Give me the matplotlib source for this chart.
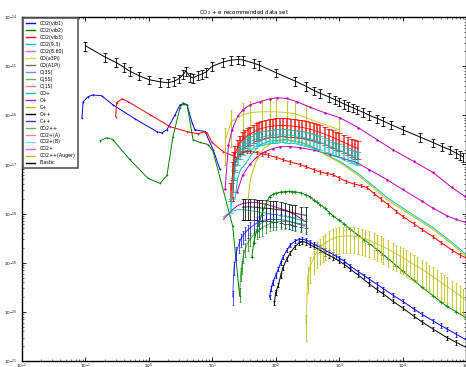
import numpy as np
import matplotlib
matplotlib.use("Agg")
import matplotlib.pyplot as plt
from matplotlib.lines import Line2D

B, G, R, C, M, Y, K = (0, 0, 1), (0, 0.5, 0), (1, 0, 0), (0, 0.75, 0.75), (0.75, 0, 0.75), (0.75, 0.75, 0), (0, 0, 0)

# ---------------- data (energy eV, cross section cm^2) ----------------
vib1_x = [0.088, 0.092, 0.11, 0.13, 0.18, 0.27, 0.6, 1.34, 1.6, 1.93, 2.6, 3.1, 4.0, 4.8, 5.3, 7.7, 10.3, 13.2]
vib1_y = [8.9e-17, 1.89e-16, 2.38e-16, 2.6e-16, 2.5e-16, 1.64e-16, 8.5e-17, 4.65e-17, 4.4e-17, 5.1e-17, 1.03e-16, 1.64e-16, 1.64e-16, 7.1e-17, 5.1e-17, 4.65e-17, 2.0e-17, 8e-18]

vib2_x = [0.17, 0.22, 0.27, 0.5, 0.97, 1.5, 1.93, 2.4, 3.1, 3.45, 4.0, 4.97, 6.4, 8.6, 10.3, 21, 27]
vib2_y = [3.05e-17, 3.5e-17, 3.2e-17, 1.26e-17, 5.2e-18, 4.1e-18, 6.0e-18, 3.7e-17, 1.43e-16, 1.8e-16, 1.64e-16, 3.2e-17, 2.8e-17, 2.54e-17, 1.83e-17, 5.5e-19, 2.1e-20]

vib3_x = [0.30, 0.31, 0.38, 0.47, 1.04, 2.15, 4.0, 6.0, 7.7, 8.3, 9.9, 14.8, 24.5]
vib3_y = [9.4e-17, 1.8e-16, 2.17e-16, 1.89e-16, 1.03e-16, 5.9e-17, 4.65e-17, 4.2e-17, 4.65e-17, 4.4e-17, 2.8e-17, 1.83e-17, 1.38e-17]

e930_x = [15, 20, 25, 30, 40, 50, 70, 100, 150, 200, 300]
e930_y = [8.5e-19, 1.1e-18, 1.2e-18, 1.2e-18, 1.15e-18, 1.1e-18, 1.02e-18, 9.5e-19, 8.6e-19, 7.9e-19, 6.9e-19]

e860_x = [15, 20, 25, 30, 40, 50, 70, 100, 150, 200, 300]
e860_y = [7.6e-19, 1.15e-18, 1.45e-18, 1.6e-18, 1.69e-18, 1.68e-18, 1.55e-18, 1.35e-18, 1.15e-18, 9.5e-19, 6.8e-19]

coa_x = [16, 20, 30, 40, 60, 80, 100, 150, 200, 300, 1000]
coa_y = [3.2e-17, 7.4e-17, 1.03e-16, 1.13e-16, 1.18e-16, 1.18e-16, 1.18e-16, 1.13e-16, 1.08e-16, 8.9e-17, 5.1e-17]

coA_x = [30, 33, 36, 40, 45, 50, 55, 60, 70, 80, 90, 100, 120, 140, 160, 180, 200, 250, 300]
coA_y = [1.34e-18, 1.36e-18, 1.37e-18, 1.37e-18, 1.35e-18, 1.33e-18, 1.31e-18, 1.3e-18, 1.28e-18, 1.27e-18,
         1.25e-18, 1.22e-18, 1.18e-18, 1.14e-18, 1.1e-18, 1.05e-18, 1.02e-18, 9.6e-19, 9.2e-19]

o3s_x = [21, 22, 24, 26, 28, 30, 33, 36, 40, 45, 50, 55, 60, 70, 80, 90, 100, 120, 140, 160, 180, 200, 250, 300]
o3s_y = [2.0e-20, 8e-20, 1.6e-19, 2.3e-19, 3.0e-19, 3.45e-19, 4.1e-19, 4.6e-19, 5.2e-19, 5.8e-19, 6.4e-19, 6.8e-19,
         7.1e-19, 7.5e-19, 7.6e-19, 7.6e-19, 7.6e-19, 7.5e-19, 7.3e-19, 7.0e-19, 6.7e-19, 6.4e-19, 5.9e-19, 5.5e-19]

o5s_x = [27, 28, 29, 31, 33, 36, 40, 45, 50, 55, 60, 70, 80, 90, 100, 120, 140, 160, 180, 200, 250, 300]
o5s_y = [2.3e-20, 6e-20, 8.5e-20, 1.4e-19, 1.9e-19, 2.5e-19, 3.1e-19, 3.7e-19, 4.3e-19, 4.7e-19, 5.1e-19, 5.7e-19,
         6.2e-19, 6.5e-19, 6.7e-19, 6.9e-19, 6.9e-19, 6.8e-19, 6.7e-19, 6.5e-19, 6.2e-19, 6.0e-19]

o1s_x = [21, 22, 24, 27, 30, 35, 40, 50, 60, 75, 100, 130, 170, 240, 300, 400, 500, 650, 800, 1000, 1300, 1700, 2200, 2750, 3500, 4500, 6000, 8000, 1e4, 1.5e4, 2e4, 3e4, 4e4, 6e4, 8e4, 1e5]
o1s_y = [2e-18, 8e-18, 1.3e-17, 1.6e-17, 1.75e-17, 1.83e-17, 1.83e-17, 1.75e-17, 1.65e-17, 1.55e-17, 1.4e-17, 1.25e-17,
         1.12e-17, 1.0e-17, 9.0e-18, 7.8e-18, 7.0e-18, 6.5e-18, 6.2e-18, 5.3e-18, 4.5e-18, 4.0e-18, 3.7e-18, 3.4e-18,
         2.6e-18, 2.0e-18, 1.5e-18, 1.1e-18, 8.8e-19, 6.2e-19, 4.8e-19, 3.4e-19, 2.6e-19, 1.8e-19, 1.45e-19, 1.25e-19]

cop_x = [22.8, 25, 28, 33, 40, 56, 80, 140, 250, 390, 600, 1030, 2000, 3500, 5700, 1e4, 3e4, 6e4, 1e5]
cop_y = [1.94e-18, 5e-18, 8e-18, 1.0e-17, 1.5e-17, 2.5e-17, 3.0e-17, 3.2e-17, 2.8e-17, 2.2e-17, 1.6e-17, 1.15e-17,
         6.5e-18, 3.6e-18, 2.13e-18, 1.3e-18, 5.2e-19, 2.6e-19, 1.48e-19]

op_x = [24.5, 30, 39, 50, 68, 90, 117, 170, 242, 400, 718, 1200, 1910, 3000, 5680, 1e4, 2e4, 3e4, 5e4, 7e4, 1e5]
op_y = [2.7e-18, 6e-18, 1.0e-17, 1.4e-17, 1.83e-17, 2.1e-17, 2.3e-17, 2.3e-17, 2.2e-17, 1.95e-17, 1.59e-17, 1.3e-17,
        1.09e-17, 7.8e-18, 4.9e-18, 3.1e-18, 1.8e-18, 1.3e-18, 9.0e-19, 7.6e-19, 6.6e-19]

cp_x = [36.6, 40, 47, 55, 68, 90, 150, 250, 387, 600, 1030, 2000, 3500, 5680, 1e4, 3e4, 6e4, 1e5]
cp_y = [1.94e-18, 5e-18, 1.0e-17, 1.6e-17, 2.2e-17, 2.8e-17, 3.2e-17, 2.8e-17, 2.3e-17, 1.6e-17, 1.09e-17, 6e-18,
        3.3e-18, 1.94e-18, 1.2e-18, 4.8e-19, 2.4e-19, 1.35e-19]

opp_x = [95, 100, 110, 120, 130, 150, 170, 200, 230, 260, 300, 350, 400, 500, 600, 700, 800, 1000, 1200, 1500,
         2000, 3000, 4000, 5000, 7000, 1e4, 1.5e4, 2e4, 3e4, 5e4, 7e4, 1e5]
opp_y = [1.5e-20, 2.5e-20, 3.5e-20, 5.5e-20, 8e-20, 1.2e-19, 1.6e-19, 2.1e-19, 2.5e-19, 2.72e-19, 2.6e-19, 2.3e-19,
         2.12e-19, 1.8e-19, 1.55e-19, 1.4e-19, 1.28e-19, 1.08e-19, 9.3e-20, 7.4e-20, 5.6e-20, 3.7e-20, 2.8e-20,
         2.3e-20, 1.65e-20, 1.2e-20, 8.2e-21, 6.3e-21, 4.5e-21, 3.0e-21, 2.4e-21, 1.9e-21]

cpp_x = [80, 85, 90, 100, 110, 120, 130, 150, 170, 200, 230, 260, 300, 350, 400, 450, 500, 600, 700, 800, 900,
         1000, 1200, 1500, 2000, 2500, 3000, 4000, 5000, 7000, 1e4, 1.5e4, 2e4, 3e4, 4e4, 5e4, 7e4, 1e5]
cpp_y = [2.0e-20, 3.0e-20, 4.0e-20, 5.5e-20, 7.5e-20, 1.0e-19, 1.3e-19, 1.8e-19, 2.3e-19, 2.75e-19, 2.95e-19,
         3.0e-19, 2.9e-19, 2.6e-19, 2.35e-19, 2.2e-19, 2.06e-19, 1.8e-19, 1.62e-19, 1.48e-19, 1.35e-19, 1.25e-19,
         1.08e-19, 8.5e-20, 6.6e-20, 5.4e-20, 4.6e-20, 3.6e-20, 2.95e-20, 2.2e-20, 1.65e-20, 1.15e-20, 9.0e-21,
         6.6e-21, 5.3e-21, 4.5e-21, 3.5e-21, 2.7e-21]

co2pp_x = [42, 45, 50, 55, 60, 70, 80, 90, 100, 120, 140, 160, 180, 200, 250, 300, 350, 400, 450, 500, 600, 700,
           800, 1000, 1200, 1500, 2000, 2500, 3000, 4000, 5000, 6000, 8000, 1e4, 1.5e4, 2e4, 3e4, 4e4, 5e4, 7e4, 1e5]
co2pp_y = [1.3e-19, 2.5e-19, 4.5e-19, 6.5e-19, 9.5e-19, 1.6e-18, 2.2e-18, 2.45e-18, 2.6e-18, 2.75e-18, 2.8e-18,
           2.82e-18, 2.8e-18, 2.78e-18, 2.65e-18, 2.4e-18, 2.2e-18, 1.85e-18, 1.68e-18, 1.52e-18, 1.28e-18, 1.05e-18,
           9.0e-19, 7.3e-19, 6.1e-19, 4.8e-19, 3.6e-19, 2.9e-19, 2.45e-19, 1.85e-19, 1.45e-19, 1.2e-19, 8.7e-20,
           6.8e-20, 4.4e-20, 3.2e-20, 2.15e-20, 1.6e-20, 1.3e-20, 1.0e-20, 7.6e-21]

band_x = [20, 21, 22, 23, 25, 27, 30, 33, 36, 40, 45, 50, 55, 60, 70, 80, 90, 100, 115, 130, 150, 175, 200, 230,
          260, 300, 350, 400, 450, 500, 600, 700, 800, 900, 1000, 1200, 1400, 1600, 1800, 2000]
co2pA_y = [3e-18, 8e-18, 1.3e-17, 1.7e-17, 2.2e-17, 2.7e-17, 3.2e-17, 3.6e-17, 3.9e-17, 4.2e-17, 4.6e-17, 4.9e-17,
           5.2e-17, 5.4e-17, 5.7e-17, 5.9e-17, 6.05e-17, 6.15e-17, 6.2e-17, 6.2e-17, 6.15e-17, 6.05e-17, 5.95e-17,
           5.8e-17, 5.65e-17, 5.45e-17, 5.2e-17, 4.95e-17, 4.7e-17, 4.5e-17, 4.1e-17, 3.8e-17, 3.55e-17, 3.3e-17,
           3.1e-17, 2.8e-17, 2.55e-17, 2.35e-17, 2.2e-17, 2.1e-17]
co2pB_y = [1.5e-18, 4e-18, 7e-18, 1e-17, 1.4e-17, 1.8e-17, 2.2e-17, 2.5e-17, 2.75e-17, 2.95e-17, 3.15e-17, 3.35e-17,
           3.5e-17, 3.6e-17, 3.75e-17, 3.85e-17, 3.92e-17, 3.97e-17, 4.0e-17, 4.0e-17, 3.97e-17, 3.9e-17, 3.82e-17,
           3.72e-17, 3.6e-17, 3.45e-17, 3.3e-17, 3.15e-17, 3.0e-17, 2.85e-17, 2.6e-17, 2.4e-17, 2.25e-17, 2.1e-17,
           1.98e-17, 1.8e-17, 1.65e-17, 1.52e-17, 1.45e-17, 1.4e-17]

co2p_x = [15.9, 18, 20.5, 25, 30.5, 40, 56.5, 80, 105, 150, 216, 350, 600, 1030, 2000, 3950, 7000, 1.5e4, 3.0e4, 6e4, 9.6e4]
co2p_y = [3.1e-18, 2.5e-17, 5.1e-17, 9.5e-17, 1.3e-16, 1.65e-16, 1.89e-16, 2.15e-16, 2.28e-16, 2.2e-16, 1.89e-16,
          1.45e-16, 1.12e-16, 8.9e-17, 5.6e-17, 3.2e-17, 2.0e-17, 1.15e-17, 6.9e-18, 3.4e-18, 2.23e-18]

aug_x = [300, 320, 350, 400, 450, 500, 550, 600, 700, 800, 900, 1000, 1150, 1300, 1500, 1700, 2000, 2300, 2600,
         3000, 3500, 4000, 4500, 5000, 6000, 7000, 8000, 9000, 1e4, 1.15e4, 1.3e4, 1.5e4, 1.7e4, 2e4, 2.3e4, 2.6e4,
         3e4, 3.5e4, 4e4, 4.5e4, 5e4, 6e4, 7e4, 8e4, 9e4, 1e5]
aug_y = [5.7e-21, 5.3e-20, 8.5e-20, 1.3e-19, 1.7e-19, 2.0e-19, 2.3e-19, 2.5e-19, 2.85e-19, 3.1e-19, 3.3e-19, 3.4e-19,
         3.45e-19, 3.5e-19, 3.5e-19, 3.45e-19, 3.35e-19, 3.2e-19, 3.05e-19, 2.85e-19, 2.6e-19, 2.4e-19, 2.25e-19,
         2.1e-19, 1.85e-19, 1.65e-19, 1.5e-19, 1.38e-19, 1.28e-19, 1.15e-19, 1.03e-19, 9.2e-20, 8.5e-20, 7.4e-20,
         6.6e-20, 5.9e-20, 5.2e-20, 4.5e-20, 4.0e-20, 3.6e-20, 3.3e-20, 2.8e-20, 2.45e-20, 2.15e-20, 1.9e-20, 1.7e-20]

el_x = [0.1, 0.2, 0.3, 0.4, 0.5, 0.7, 1.0, 1.5, 2.0, 2.5, 3.0, 3.5, 3.8, 4.5, 5, 6, 7, 8, 10, 15, 20, 25, 30, 45,
        55, 100, 200, 300, 400, 500, 700, 850, 1000, 1200, 1400, 1650, 1900, 2400, 3000, 4000, 5000, 6500, 1e4,
        1.9e4, 3e4, 4.2e4, 5.5e4, 7e4, 8e4, 9e4]
el_y = [2.6e-15, 1.55e-15, 1.2e-15, 9.6e-16, 7.9e-16, 6.4e-16, 5.3e-16, 4.8e-16, 4.6e-16, 4.9e-16, 5.6e-16, 6.8e-16,
        8.0e-16, 6.0e-16, 5.8e-16, 6.5e-16, 7.0e-16, 7.6e-16, 1.0e-15, 1.22e-15, 1.33e-15, 1.36e-15, 1.34e-15,
        1.15e-15, 1.05e-15, 7.4e-16, 5.0e-16, 3.9e-16, 3.2e-16, 2.8e-16, 2.35e-16, 2.1e-16, 1.9e-16, 1.7e-16,
        1.55e-16, 1.43e-16, 1.3e-16, 1.15e-16, 1.0e-16, 8.6e-17, 7.6e-17, 6.5e-17, 5.1e-17, 3.6e-17, 2.8e-17,
        2.3e-17, 2.0e-17, 1.7e-17, 1.55e-17, 1.42e-17]

labels = ["CO2(vib1)", "CO2(vib2)", "CO2(vib3)", "CO2(9.3)", "CO2(8.60)", "CO(a3Pi)", "CO(A1Pi)", "O(3S)",
          "O(5S)", "O(1S)", "CO+", "O+", "C+", "O++", "C++", "CO2++", "CO2+(A)", "CO2+(B)", "CO2+",
          "CO2++(Auger)", "Elastic"]
leg_colors = [B, G, R, C, M, Y, K, B, G, R, C, M, Y, K, B, G, R, C, M, Y, K]
leg_alpha = [1, 1, 1, 1, 0.6, 0.6, 0.55, 0.5, 0.6, 0.55, 1, 1, 1, 1, 0.8, 0.6, 0.5, 0.5, 0.6, 1, 1]

# ---------------- plotting ----------------
fig = plt.figure(figsize=(4.66, 3.67), dpi=100)
ax = fig.add_axes([22 / 466, 6 / 367, 444 / 466, 344 / 367])
ax.set_xscale("log")
ax.set_yscale("log")
ax.set_xlim(1e-2, 1e5)
ax.set_ylim(1e-21, 1e-14)

lw = 0.7


def eb(x, y, col, rel, alpha=1.0, lw_=lw, cap=1.0, elw=0.6):
    x = np.asarray(x)
    y = np.asarray(y)
    ax.errorbar(x, y, yerr=y * rel, color=col, alpha=alpha,
                lw=lw_, elinewidth=elw, capsize=cap, capthick=0.6)


ax.plot(vib1_x, vib1_y, color=B, lw=lw, marker="+", ms=2, mew=0.4)
ax.plot(vib2_x, vib2_y, color=G, lw=lw, marker="+", ms=2, mew=0.4)
ax.plot(vib3_x, vib3_y, color=R, lw=lw, marker="+", ms=2, mew=0.4)
ax.plot(e930_x, e930_y, color=C, lw=lw)
ax.plot(e860_x, e860_y, color=M, lw=lw)
eb(coa_x, coa_y, Y, 0.7, alpha=0.85, cap=0.8, elw=0.8)
eb(coA_x, coA_y, K, 0.45, alpha=0.8, cap=1.2, elw=0.7)
eb(o3s_x, o3s_y, B, 0.3, alpha=0.7, cap=1.0, elw=0.7)
eb(o5s_x, o5s_y, G, 0.3, alpha=0.7, cap=1.0, elw=0.7)
eb(o1s_x, o1s_y, R, 0.08, alpha=1.0, cap=1.0)
ax.plot(cop_x, cop_y, color=C, lw=lw)
ax.plot(op_x, op_y, color=M, lw=lw, marker=".", ms=1.5)
ax.plot(cp_x, cp_y, color=Y, lw=lw)
eb(opp_x, opp_y, K, 0.1, cap=1.0)
eb(cpp_x, cpp_y, B, 0.1, cap=1.0)
ax.plot(co2pp_x, co2pp_y, color=G, lw=lw, marker="+", ms=2.5, mew=0.5)
eb(band_x, co2pA_y, R, 0.4, alpha=0.85, cap=2.0, elw=1.1)
eb(band_x, co2pB_y, C, 0.3, alpha=0.8, cap=2.0, elw=1.1)
ax.plot(co2p_x, co2p_y, color=M, lw=lw, marker=".", ms=1.5)
eb(aug_x, aug_y, Y, 0.55, alpha=0.8, cap=1.0, elw=0.8)
eb(el_x, el_y, K, 0.2, cap=1.5)

# axes styling
for s in ax.spines.values():
    s.set_linewidth(1.0)
ax.tick_params(which="both", direction="in", top=True, right=True, labelsize=3)
ax.tick_params(axis="x", pad=0.5)
ax.tick_params(which="major", length=3, width=0.6)
ax.tick_params(which="minor", length=1.5, width=0.4)
ax.set_title("CO$_2$ + e recommended data set", fontsize=4, pad=2)
ax.set_ylabel("Cross section (cm$^2$)", fontsize=3.2, labelpad=2)

handles = [Line2D([0], [0], color=c, alpha=a, lw=1.0) for c, a in zip(leg_colors, leg_alpha)]
leg = ax.legend(handles, labels, loc="upper left", fontsize=3.4, labelspacing=0.42, handlelength=2.0,
                handletextpad=1.0, borderpad=0.5, fancybox=False, framealpha=1, borderaxespad=0.3)
leg.get_frame().set_edgecolor("0.35")
leg.get_frame().set_linewidth(1.2)

fig.savefig("out.png", dpi=100)
